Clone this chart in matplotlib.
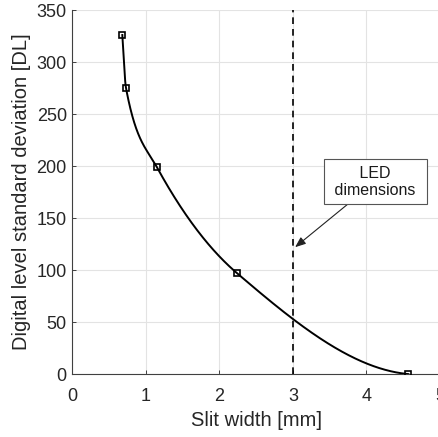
import matplotlib
matplotlib.use("Agg")
import matplotlib.pyplot as plt
import numpy as np

# measured slit widths and the resulting digital level spread
slit_width_mm = [0.68, 0.73, 1.15, 2.24, 4.57]
dl_std = [326, 275, 199, 97, 0]
led_width_mm = 3.0
led_arrow_x = 3.03
led_arrow_dl = 122


def pchip(xk, yk, xq):
    """Shape-preserving piecewise cubic Hermite interpolation."""
    xk = np.asarray(xk, float)
    yk = np.asarray(yk, float)
    h = np.diff(xk)
    delta = np.diff(yk) / h
    n = len(xk)
    d = np.zeros(n)
    for k in range(1, n - 1):
        if delta[k - 1] * delta[k] > 0:
            w1 = 2 * h[k] + h[k - 1]
            w2 = h[k] + 2 * h[k - 1]
            d[k] = (w1 + w2) / (w1 / delta[k - 1] + w2 / delta[k])

    def end_slope(h0, h1, del0, del1):
        s = ((2 * h0 + h1) * del0 - h0 * del1) / (h0 + h1)
        if np.sign(s) != np.sign(del0):
            s = 0.0
        elif np.sign(del0) != np.sign(del1) and abs(s) > abs(3 * del0):
            s = 3 * del0
        return s

    d[0] = end_slope(h[0], h[1], delta[0], delta[1])
    d[-1] = end_slope(h[-1], h[-2], delta[-1], delta[-2])

    idx = np.clip(np.searchsorted(xk, xq) - 1, 0, n - 2)
    hh = h[idx]
    s = (xq - xk[idx]) / hh
    h00 = 2 * s ** 3 - 3 * s ** 2 + 1
    h10 = s ** 3 - 2 * s ** 2 + s
    h01 = -2 * s ** 3 + 3 * s ** 2
    h11 = s ** 3 - s ** 2
    return (h00 * yk[idx] + h10 * hh * d[idx]
            + h01 * yk[idx + 1] + h11 * hh * d[idx + 1])


plt.rcParams["font.family"] = ["Liberation Sans", "DejaVu Sans"]

fig = plt.figure(figsize=(4.38, 4.37), dpi=100)
ax = fig.add_axes([0.1651, 0.144, 0.8394, 0.833])

xq = np.linspace(slit_width_mm[0], slit_width_mm[-1], 600)
ax.plot(xq, pchip(slit_width_mm, dl_std, xq), color="black", lw=1.4, zorder=3)
ax.plot(slit_width_mm, dl_std, linestyle="none", marker="s", ms=4.5,
        mfc="none", mec="black", mew=1.2, zorder=4)

ax.axvline(led_width_mm, color="black", lw=1.2, linestyle=(0, (4, 3)), zorder=3)

ax.annotate(" LED \n dimensions ", xy=(led_arrow_x, led_arrow_dl),
            xytext=(4.12, 185), ha="center", va="center", fontsize=11.5,
            color="#1a1a1a", linespacing=1.15,
            bbox=dict(boxstyle="square,pad=0.42", fc="white", ec="#555555", lw=0.8),
            arrowprops=dict(arrowstyle="-|>,head_length=0.55,head_width=0.22",
                            color="#222222", lw=0.8, shrinkA=0, shrinkB=0),
            zorder=5)

ax.set_xlim(0, 5)
ax.set_ylim(0, 350)
ax.set_xticks(range(0, 6))
ax.set_yticks(range(0, 351, 50))
ax.grid(True, color="#e3e3e3", lw=0.8)
ax.set_axisbelow(True)
for side in ("top", "right"):
    ax.spines[side].set_visible(False)
for side in ("left", "bottom"):
    ax.spines[side].set_color("#404040")
    ax.spines[side].set_linewidth(0.8)
ax.tick_params(labelsize=13, colors="#262626", direction="in", length=3, width=0.6,
               pad=4)
ax.tick_params(axis="x", pad=10)
ax.set_xlabel("Slit width [mm]", fontsize=14.5, color="#262626", labelpad=4)
ax.set_ylabel("Digital level standard deviation [DL]", fontsize=14.5,
              color="#262626", labelpad=4)

fig.savefig("out.png", dpi=100)
